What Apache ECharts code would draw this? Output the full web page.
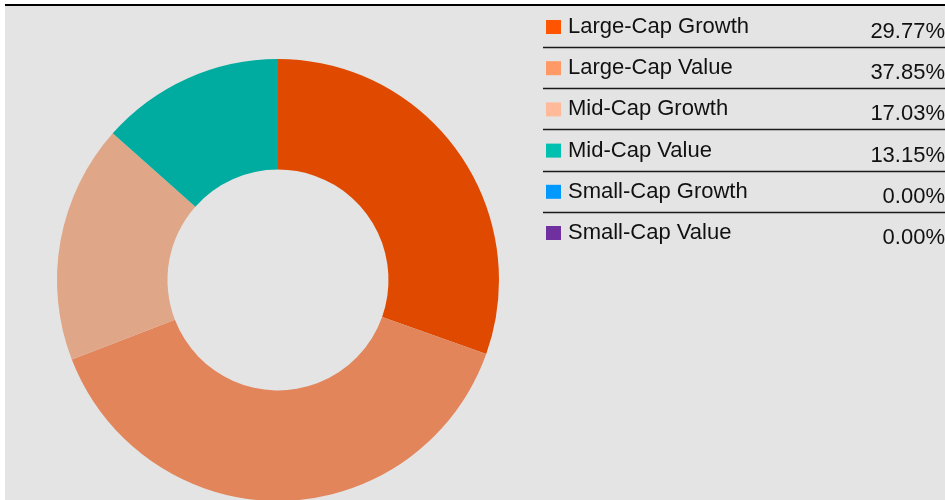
<!DOCTYPE html>
<html>
<head>
<meta charset="utf-8">
<script src="https://cdn.jsdelivr.net/npm/echarts@6/dist/echarts.min.js"></script>
<style>
  html, body { margin: 0; padding: 0; background: #fff; }
  #chart {
    position: absolute; left: 5px; top: 4px;
    width: 940px; height: 494px;
    border-top: 2px solid #000;
    background: #e4e4e4;
  }
</style>
</head>
<body>
<div id="chart"></div>
<script>
// style mix by market cap
var categories = ['Large-Cap Growth', 'Large-Cap Value', 'Mid-Cap Growth', 'Mid-Cap Value', 'Small-Cap Growth', 'Small-Cap Value'];
var weights = [29.77, 37.85, 17.03, 13.15, 0.00, 0.00];
var legendColors = ['#ff5500', '#ff9966', '#ffbb99', '#00c0b0', '#0099ff', '#7030a0'];
var sliceColors = ['#e04a00', '#e2855b', '#e0a688', '#00ac9f', '#0087e0', '#632a8d'];

var myChart = echarts.init(document.getElementById('chart'));

var rowTop = 14;     // top of first legend swatch
var rowStep = 41.2;  // distance between legend rows
var textH = 32;      // 22px text plus 10px padding

var pieData = [];
var legendData = [];
categories.forEach(function (name, i) {
    pieData.push({name: name, value: weights[i], itemStyle: {color: sliceColors[i]}});
    legendData.push({name: name, itemStyle: {color: legendColors[i]}});
});

// separator lines under each legend row except the last
var lines = [];
for (var i = 0; i < categories.length - 1; i++) {
    var y = Math.round(rowTop + 27 + i * rowStep) + 0.5;
    lines.push({
        type: 'line',
        shape: {x1: 538, y1: y, x2: 940, y2: y},
        style: {stroke: '#1a1a1a', lineWidth: 1.5},
        silent: true
    });
}

var option = {
    animation: false,
    legend: {
        orient: 'vertical',
        left: 541,
        top: rowTop - (textH - 14) / 2,
        padding: 0,
        icon: 'rect',
        itemWidth: 15,
        itemHeight: 14,
        itemGap: rowStep - textH,
        selectedMode: false,
        data: legendData,
        formatter: function (name) {
            var v = weights[categories.indexOf(name)].toFixed(2) + '%';
            return '{n|' + name + '}{v|' + v + '}';
        },
        textStyle: {
            rich: {
                n: {width: 298, padding: [5, 0, 5, 2], fontSize: 22, lineHeight: 22, color: '#111', fontFamily: 'Liberation Sans'},
                v: {width: 79, padding: [10, 0, 0, 0], align: 'right', fontSize: 22, lineHeight: 22, color: '#111', fontFamily: 'Liberation Sans'}
            }
        }
    },
    graphic: lines,
    series: [
        {
            name: 'Style',
            type: 'pie',
            center: [273, 274],
            radius: [110.5, 221],
            startAngle: 90,
            clockwise: true,
            label: {show: false},
            labelLine: {show: false},
            emphasis: {disabled: true},
            itemStyle: {borderWidth: 0},
            data: pieData
        }
    ]
};

myChart.setOption(option);
</script>
</body>
</html>
